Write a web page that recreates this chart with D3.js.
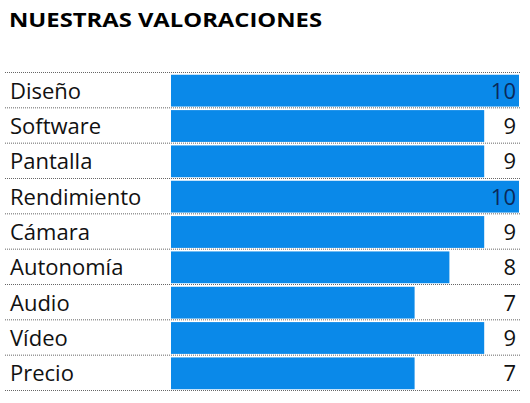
<!DOCTYPE html>
<html><head><meta charset="utf-8">
<script src="https://cdn.jsdelivr.net/npm/d3@7"></script>
<style>body{margin:0;background:#fff}</style>
</head><body>
<svg id="chart" width="530" height="403"></svg>
<script>
const categories = ["Diseño", "Software", "Pantalla", "Rendimiento", "Cámara", "Autonomía", "Audio", "Vídeo", "Precio"];
const scores = [10, 9, 9, 10, 9, 8, 7, 9, 7];

const svg = d3.select("#chart");
const font = "'Open Sans', 'Liberation Sans', Arial, sans-serif";

svg.append("text").attr("x", 9).attr("y", 27)
    .attr("font-family", font).attr("font-weight", "bold").attr("font-size", 20)
    .attr("textLength", 313).attr("lengthAdjust", "spacingAndGlyphs")
    .text("NUESTRAS VALORACIONES");

const x = d3.scaleLinear().domain([0, 10]).range([171, 519]);
const y = d3.scaleBand().domain(categories).range([73, 391]).paddingInner(0.1).paddingOuter(0.05);
const step = y.step();

// dotted separators
svg.selectAll("line.sep").data(d3.range(categories.length + 1)).join("line")
    .attr("x1", 5).attr("x2", 520)
    .attr("y1", i => 73 + i * step - 0.5).attr("y2", i => 73 + i * step - 0.5)
    .attr("stroke", "#666").attr("stroke-dasharray", "1,1").attr("stroke-width", 1);

const rows = svg.selectAll("g.row").data(categories).join("g");

rows.append("rect")
    .attr("x", x(0)).attr("y", d => y(d))
    .attr("width", (d, i) => x(scores[i]) - x(0))
    .attr("height", y.bandwidth())
    .attr("fill", "#0a89e9");

rows.append("text")
    .attr("x", 10).attr("y", d => y(d) + y.bandwidth() / 2 + 8)
    .attr("font-family", font).attr("font-size", 22).attr("fill", "#111")
    .text(d => d);

rows.append("text")
    .attr("x", 516).attr("y", d => y(d) + y.bandwidth() / 2 + 8)
    .attr("text-anchor", "end")
    .attr("font-family", font).attr("font-size", 22)
    .attr("fill", (d, i) => scores[i] === 10 ? "#0a2a5a" : "#111")
    .text((d, i) => scores[i]);
</script>
</body></html>
